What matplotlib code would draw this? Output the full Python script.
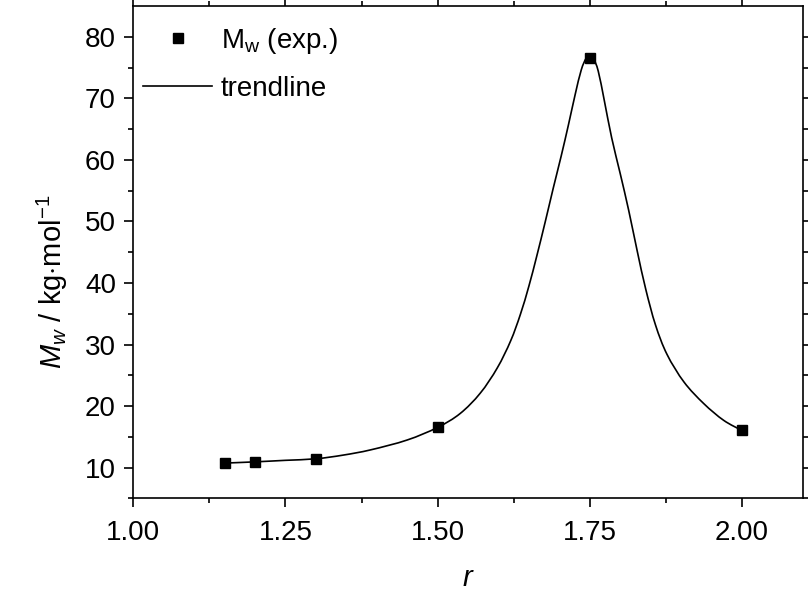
import matplotlib
matplotlib.use('Agg')
import matplotlib.pyplot as plt
from matplotlib.path import Path
from matplotlib.patches import PathPatch
from matplotlib.lines import Line2D

plt.rcParams['font.family'] = ['Liberation Sans', 'DejaVu Sans']
plt.rcParams['mathtext.fontset'] = 'custom'
plt.rcParams['mathtext.rm'] = 'Liberation Sans'
plt.rcParams['mathtext.it'] = 'Liberation Sans:italic'
plt.rcParams['mathtext.bf'] = 'Liberation Sans:bold'

# measured points
r_exp = [1.15, 1.20, 1.30, 1.50, 1.75, 2.00]
mw_exp = [10.75, 10.95, 11.45, 16.55, 76.6, 16.05]

# trendline
r_trend = [1.15, 1.20, 1.25, 1.30, 1.345, 1.39, 1.45, 1.50, 1.537, 1.570,
           1.598, 1.620, 1.636, 1.650, 1.663, 1.677, 1.690, 1.703, 1.715,
           1.726, 1.736, 1.744, 1.750, 1.756, 1.764, 1.774, 1.786, 1.800,
           1.814, 1.828, 1.842, 1.858, 1.877, 1.905, 1.9375, 1.970, 2.00]
mw_trend = [10.75, 10.95, 11.2, 11.45, 12.05, 12.9, 14.5, 16.55, 18.8, 22.1,
            26.2, 30.6, 34.9, 39.5, 44.4, 50.0, 55.4, 60.6, 65.7,
            70.6, 74.6, 76.5, 76.9, 76.5, 74.4, 69.6, 63.6, 57.8,
            51.8, 45.2, 39.0, 33.2, 28.4, 23.9, 20.4, 17.7, 16.05]

fig = plt.figure(figsize=(8.08, 5.98), dpi=100)
ax = fig.add_axes([0.165, 0.1664, 0.8285, 0.8236])

# smooth connection through the read points (spline-style path)
n = len(r_trend)
verts = [(r_trend[0], mw_trend[0])]
codes = [Path.MOVETO]
for i in range(n - 1):
    p0 = (r_trend[max(i - 1, 0)], mw_trend[max(i - 1, 0)])
    p1 = (r_trend[i], mw_trend[i])
    p2 = (r_trend[i + 1], mw_trend[i + 1])
    p3 = (r_trend[min(i + 2, n - 1)], mw_trend[min(i + 2, n - 1)])
    c1 = (p1[0] + (p2[0] - p0[0]) / 6, p1[1] + (p2[1] - p0[1]) / 6)
    c2 = (p2[0] - (p3[0] - p1[0]) / 6, p2[1] - (p3[1] - p1[1]) / 6)
    verts += [c1, c2, p2]
    codes += [Path.CURVE4] * 3
ax.add_patch(PathPatch(Path(verts, codes), fill=False, edgecolor='black', lw=1.2, zorder=2))

ax.plot(r_exp, mw_exp, 's', color='black', ms=6.5, zorder=3)

ax.set_xticks([1.00, 1.25, 1.50, 1.75, 2.00])
ax.set_xticklabels(['1.00', '1.25', '1.50', '1.75', '2.00'])
ax.set_xticks([1.125, 1.375, 1.625, 1.875], minor=True)
ax.set_yticks([10, 20, 30, 40, 50, 60, 70, 80])
ax.set_yticks([5, 15, 25, 35, 45, 55, 65, 75], minor=True)
ax.set_xlim(1.0, 2.1)
ax.set_ylim(5, 85)

for s in ax.spines.values():
    s.set_linewidth(1.2)
ax.tick_params(which='both', direction='out', width=1.2, labelsize=20,
               top=True, right=True)
ax.tick_params(which='major', length=6.5, pad=6)
ax.tick_params(which='minor', length=3.5)
ax.tick_params(axis='x', which='major', pad=9)

ax.set_xlabel(r'$r$', fontsize=21, labelpad=13)
ax.set_ylabel(r'$M_w$ / kg$\cdot$mol$^{-1}$', fontsize=21)
ax.yaxis.set_label_coords(-0.095, 0.44)

h_exp = Line2D([], [], ls='none', marker='s', color='black', ms=6.5)
h_trend = Line2D([], [], color='black', lw=1.2)
ax.legend([h_exp, h_trend], [r'M$_\mathrm{w}$ (exp.)', 'trendline'],
          loc='upper left', bbox_to_anchor=(0.0145, 0.959),
          frameon=False, fontsize=20, handlelength=2.5, handletextpad=0.3,
          labelspacing=0.72, borderpad=0, borderaxespad=0)

fig.savefig('out.png', dpi=100)
